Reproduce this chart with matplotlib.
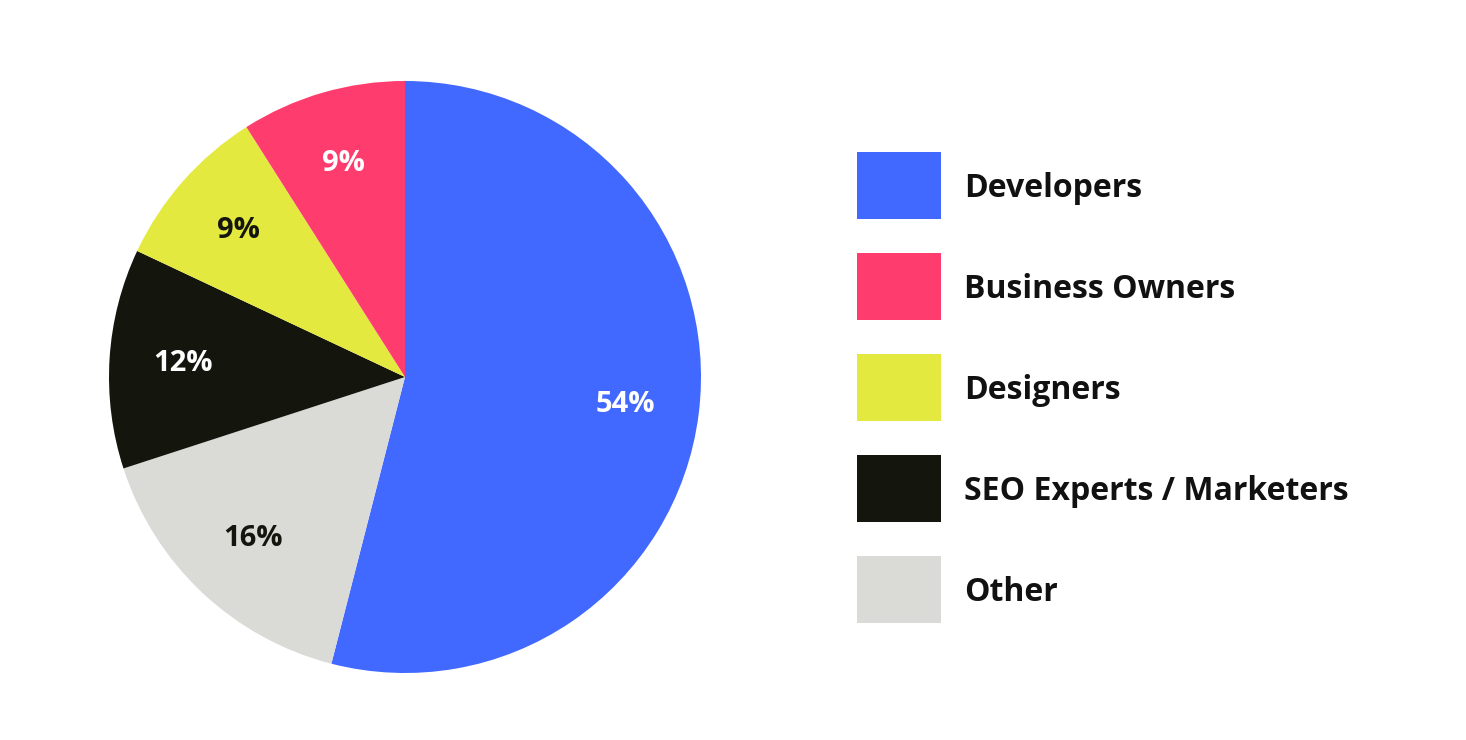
import matplotlib
matplotlib.use("Agg")
import matplotlib.pyplot as plt
from matplotlib.patches import Rectangle
from matplotlib.legend_handler import HandlerPatch

categories = ["Developers", "Other", "SEO Experts / Marketers", "Designers", "Business Owners"]
values = [54, 16, 12, 9, 9]
colors = ["#4269FF", "#DADBD6", "#14160E", "#E4E93F", "#FF3C6E"]
label_colors = ["white", "#14160E", "white", "#14160E", "white"]
legend_order = ["Developers", "Business Owners", "Designers", "SEO Experts / Marketers", "Other"]

plt.rcParams['font.family'] = ['Open Sans', 'DejaVu Sans']

fig = plt.figure(figsize=(14.66, 7.4), dpi=100)
ax = fig.add_axes([109/1466, 67/740, 592/1466, 592/740])

wedges, texts, autotexts = ax.pie(
    values, colors=colors, startangle=90, counterclock=False,
    autopct=lambda p: f"{p:.0f}%", pctdistance=0.75,
    wedgeprops=dict(linewidth=0),
    textprops=dict(fontsize=21, fontweight='bold'))
for t, c in zip(autotexts, label_colors):
    t.set_color(c)
ax.set_xlim(-1, 1)
ax.set_ylim(-1, 1)
ax.set_aspect('equal')

# legend geometry (points)
fs = 23
px2pt = 72 / 100
rect_h = 67 * px2pt          # patch height
D = 22 * px2pt               # text baseline above patch bottom
hh = 0.7 + D / (0.35 * fs)
B = fs * hh - D              # legend handle box height
row = 101 * px2pt


def make_rect(legend, orig_handle, xdescent, ydescent, width, height, fontsize):
    return Rectangle((-xdescent, -ydescent), width, rect_h)


handles = [wedges[categories.index(n)] for n in legend_order]
top_px = 152 + (rect_h - B) / px2pt
leg = fig.legend(handles, legend_order, loc='upper left',
                 bbox_to_anchor=(857/1466, 1 - top_px/740),
                 bbox_transform=fig.transFigure,
                 frameon=False, borderpad=0, borderaxespad=0,
                 handlelength=84 * px2pt / fs, handleheight=hh,
                 labelspacing=(row - B) / fs, handletextpad=(964 - 941) * px2pt / fs,
                 handler_map={h: HandlerPatch(patch_func=make_rect) for h in handles},
                 prop=dict(size=fs, weight='bold'))
for t in leg.get_texts():
    t.set_color("#111111")

fig.savefig("out.png", dpi=100, facecolor="white")
